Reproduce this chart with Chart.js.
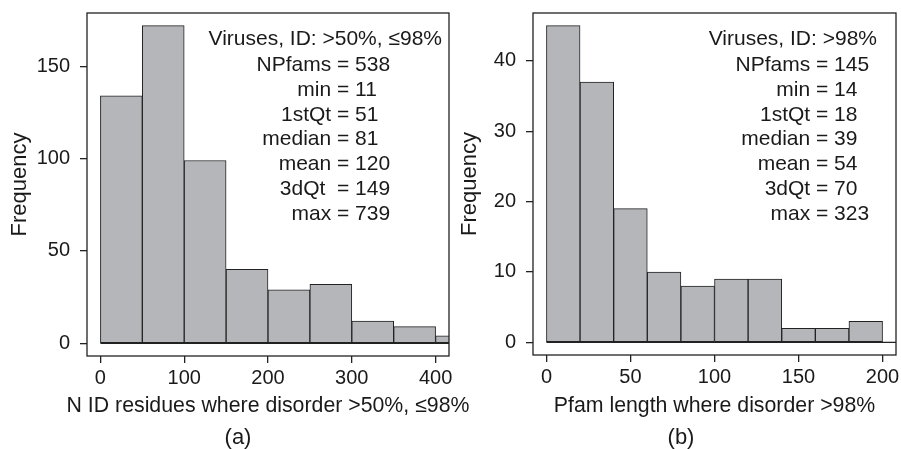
<!DOCTYPE html>
<html>
<head>
<meta charset="utf-8">
<script src="https://cdn.jsdelivr.net/npm/chart.js@4.4.1/dist/chart.umd.min.js"></script>
<style>
  html, body { margin: 0; padding: 0; background: #fff; }
  #wrap { position: relative; width: 901px; height: 449px; }
  canvas { position: absolute; top: 0; }
</style>
</head>
<body>
<div id="wrap">
  <!-- left canvas is wider than its half so its x label can run past the middle -->
  <canvas id="histA" width="480" height="449" style="left:0"></canvas>
  <canvas id="histB" width="451" height="449" style="left:450px"></canvas>
</div>
<script>
// panel (a): viruses, ID >50%, <=98%
const binEdgesA = [0, 50, 100, 150, 200, 250, 300, 350, 400, 450];
const countsA = [134, 172, 99, 40, 29, 32, 12, 9, 4];
const xTicksA = [0, 100, 200, 300, 400];
const yTicksA = [0, 50, 100, 150];
const statTitleA = 'Viruses, ID: >50%, \u226498%';
const statNamesA = ['NPfams', 'min', '1stQt', 'median', 'mean', '3dQt ', 'max'];
const statValuesA = ['538', '11', '51', '81', '120', '149', '739'];

// panel (b): viruses, ID >98%
const binEdgesB = [0, 20, 40, 60, 80, 100, 120, 140, 160, 180, 200];
const countsB = [45, 37, 19, 10, 8, 9, 9, 2, 2, 3];
const xTicksB = [0, 50, 100, 150, 200];
const yTicksB = [0, 10, 20, 30, 40];
const statTitleB = 'Viruses, ID: >98%';
const statNamesB = ['NPfams', 'min', '1stQt', 'median', 'mean', '3dQt', 'max'];
const statValuesB = ['145', '14', '18', '39', '54', '70', '323'];

const FONT = '"Liberation Sans", Arial, Helvetica, sans-serif';
const INK = '#1a1a1a';
const LINE = '#222';

// frame, zero line, x label (may overflow the axis width), stats text, panel letter
const statsPlugin = {
    id: 'statsBox',
    afterDraw(chart, args, opts) {
        const { ctx, chartArea: a } = chart;
        const xs = chart.scales.x, ys = chart.scales.y;
        ctx.save();
        ctx.strokeStyle = LINE;
        ctx.lineWidth = 1.3;
        ctx.strokeRect(a.left, a.top, a.right - a.left, a.bottom - a.top);

        const y0 = ys.getPixelForValue(0);
        ctx.beginPath();
        ctx.moveTo(xs.getPixelForValue(0), y0);
        ctx.lineTo(a.right, y0);
        ctx.stroke();

        ctx.fillStyle = INK;
        ctx.textBaseline = 'middle';

        ctx.font = '21.3px ' + FONT;
        ctx.textAlign = 'center';
        ctx.fillText(opts.xTitle, (a.left + a.right) / 2, 406);

        ctx.font = '21px ' + FONT;
        ctx.textAlign = 'right';
        ctx.fillText(opts.title, opts.titleRight, 39);
        opts.names.forEach((name, i) => {
            const y = 65 + i * 24.9;
            ctx.textAlign = 'right';
            ctx.fillText(name + ' ', opts.eqX, y);
            ctx.textAlign = 'left';
            ctx.fillText('= ' + opts.values[i], opts.eqX, y);
        });

        ctx.font = '22px ' + FONT;
        ctx.textAlign = 'center';
        ctx.fillText(opts.letter, opts.letterX, 438);
        ctx.restore();
    }
};

function noPad(s) {
    s.paddingLeft = 0;
    s.paddingRight = 0;
    s.paddingTop = 0;
    s.paddingBottom = 0;
}

function makeHistogram(id, p) {
    const points = p.counts.map((c, i) => ({ x: (p.edges[i] + p.edges[i + 1]) / 2, y: c }));
    return new Chart(document.getElementById(id), {
        type: 'bar',
        data: {
            datasets: [{
                data: points,
                backgroundColor: '#b5b6ba',
                borderColor: LINE,
                borderWidth: 1,
                borderSkipped: false,
                barPercentage: 1,
                categoryPercentage: 1,
                clip: 0
            }]
        },
        options: {
            responsive: false,
            animation: false,
            layout: { padding: { top: 13, right: p.padRight, left: 0, bottom: 0 } },
            plugins: {
                legend: { display: false },
                tooltip: { enabled: false },
                statsBox: p.stats
            },
            scales: {
                x: {
                    type: 'linear',
                    offset: false,
                    min: p.xMin,
                    max: p.xMax,
                    afterBuildTicks: s => { s.ticks = p.xTicks.map(v => ({ value: v })); },
                    afterFit: s => { s.height = p.xHeight; noPad(s); },
                    grid: { offset: false, drawOnChartArea: false, tickLength: 7, color: LINE, lineWidth: 1.3 },
                    border: { display: false },
                    ticks: { autoSkip: false, maxRotation: 0, padding: 3, color: INK,
                             font: { family: FONT, size: 20 }, callback: v => String(v) }
                },
                y: {
                    min: p.yMin,
                    max: p.yMax,
                    afterBuildTicks: s => { s.ticks = p.yTicks.map(v => ({ value: v })); },
                    afterFit: s => { s.width = p.yWidth; noPad(s); },
                    grid: { drawOnChartArea: false, tickLength: 7, color: LINE, lineWidth: 1.3 },
                    border: { display: false },
                    ticks: { padding: 10, color: INK, font: { family: FONT, size: 20 },
                             callback: v => String(v) },
                    title: { display: true, text: 'Frequency', color: INK,
                             font: { family: FONT, size: 22 }, padding: { top: 7, bottom: 0 } }
                }
            }
        },
        plugins: [statsPlugin]
    });
}

makeHistogram('histA', {
    edges: binEdgesA, counts: countsA, xTicks: xTicksA, yTicks: yTicksA,
    xMin: -16, xMax: 416, yMin: -6.88, yMax: 178.88,
    yWidth: 87, xHeight: 93, padRight: 31,
    stats: { xTitle: 'N ID residues where disorder >50%, \u226498%',
             title: statTitleA, names: statNamesA, values: statValuesA,
             titleRight: 442, eqX: 337, letter: '(a)', letterX: 238 }
});

makeHistogram('histB', {
    edges: binEdgesB, counts: countsB, xTicks: xTicksB, yTicks: yTicksB,
    xMin: -8, xMax: 208, yMin: -1.8, yMax: 46.8,
    yWidth: 83, xHeight: 94, padRight: 5,
    stats: { xTitle: 'Pfam length where disorder >98%',
             title: statTitleB, names: statNamesB, values: statValuesB,
             titleRight: 427, eqX: 366, letter: '(b)', letterX: 231 }
});
</script>
</body>
</html>
